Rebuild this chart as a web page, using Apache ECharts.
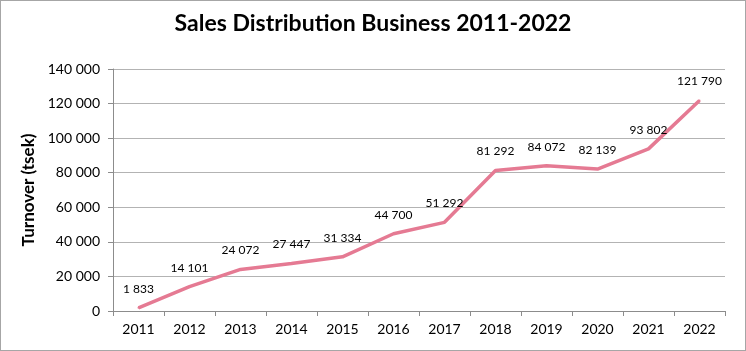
<!DOCTYPE html>
<html>
<head>
<meta charset="utf-8">
<script src="https://cdn.jsdelivr.net/npm/echarts@6/dist/echarts.min.js"></script>
<style>
  html, body { margin: 0; padding: 0; background: #fff; }
  #chart { width: 746px; height: 351px; box-sizing: border-box; border: 1px solid #a6a6a6; }
</style>
</head>
<body>
<div id="chart"></div>
<script>
const years = ['2011', '2012', '2013', '2014', '2015', '2016', '2017', '2018', '2019', '2020', '2021', '2022']
const turnover = [1833, 14101, 24072, 27447, 31334, 44700, 51292, 81292, 84072, 82139, 93802, 121790]

// 140000 -> "140 000"
const fmt = v => String(v).replace(/\B(?=(\d{3})+(?!\d))/g, ' ')

const chart = echarts.init(document.getElementById('chart'))
const font = 'Lato, "Open Sans", sans-serif'
const pink = '#e57a93'

chart.setOption({
  animation: false,
  title: {
    text: 'Sales Distribution Business 2011-2022',
    left: 'center',
    top: 6,
    textStyle: { fontFamily: font, fontSize: 23, fontWeight: 'bold', color: '#000' }
  },
  grid: { left: 112, right: 20, top: 68, bottom: 39 },
  xAxis: {
    type: 'category',
    data: years,
    boundaryGap: true,
    axisLine: { lineStyle: { color: '#8c8c8c' } },
    axisTick: { show: true, length: 5, lineStyle: { color: '#8c8c8c' } },
    axisLabel: { color: '#000', fontFamily: font, fontSize: 14, margin: 11 }
  },
  yAxis: {
    type: 'value',
    min: 0,
    max: 140000,
    interval: 20000,
    name: 'Turnover (tsek)',
    nameLocation: 'middle',
    nameGap: 66,
    nameTextStyle: { fontFamily: font, fontSize: 17, fontWeight: 'bold', color: '#000' },
    axisLine: { show: true, lineStyle: { color: '#8c8c8c' } },
    axisTick: { show: true, length: 5, lineStyle: { color: '#8c8c8c' } },
    axisLabel: { color: '#000', fontFamily: font, fontSize: 14, margin: 13, formatter: fmt },
    splitLine: { lineStyle: { color: '#b3b3b3' } }
  },
  series: [{
    type: 'line',
    data: turnover,
    showSymbol: true,
    symbol: 'circle',
    symbolSize: 2,
    itemStyle: { color: pink },
    lineStyle: { color: pink, width: 3.5 },
    label: {
      show: true,
      position: 'top',
      distance: 12,
      color: '#000',
      fontFamily: font,
      fontSize: 12,
      formatter: p => fmt(p.value)
    },
    labelLayout: { hideOverlap: false }
  }]
})
</script>
</body>
</html>
